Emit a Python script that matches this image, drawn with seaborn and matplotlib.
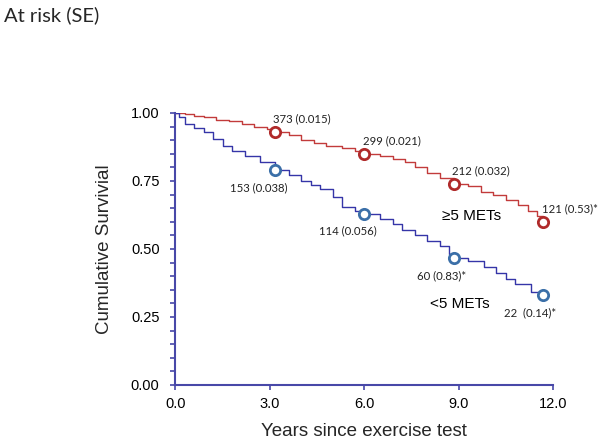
import numpy as np
import pandas as pd
import seaborn as sns
import matplotlib.pyplot as plt
from matplotlib.ticker import MultipleLocator

# Kaplan-Meier step points
red_years = [0, 0.3, 0.6, 0.9, 1.3, 1.7, 2.1, 2.5, 2.9, 3.15, 3.6, 4.0, 4.4, 4.8, 5.3,
             5.7, 6.0, 6.5, 6.9, 7.3, 7.6, 8.0, 8.4, 8.85, 9.3, 9.7, 10.1, 10.5, 10.9,
             11.2, 11.5, 11.7]
red_surv = [1.00, 0.995, 0.99, 0.985, 0.975, 0.97, 0.96, 0.95, 0.94, 0.93, 0.92, 0.90,
            0.89, 0.88, 0.87, 0.86, 0.85, 0.84, 0.83, 0.82, 0.80, 0.78, 0.76, 0.74, 0.73,
            0.71, 0.70, 0.68, 0.66, 0.64, 0.62, 0.60]

blue_years = [0, 0.1, 0.3, 0.6, 0.9, 1.2, 1.5, 1.8, 2.2, 2.7, 3.15, 3.6, 4.0, 4.3, 4.6,
              5.0, 5.3, 5.7, 6.0, 6.5, 6.9, 7.2, 7.6, 8.0, 8.4, 8.7, 8.85, 9.3, 9.8,
              10.2, 10.5, 10.8, 11.3, 11.7]
blue_surv = [1.00, 0.985, 0.96, 0.945, 0.93, 0.905, 0.88, 0.86, 0.84, 0.82, 0.79, 0.77,
             0.75, 0.735, 0.72, 0.69, 0.655, 0.64, 0.63, 0.61, 0.59, 0.57, 0.55, 0.53,
             0.51, 0.48, 0.465, 0.455, 0.435, 0.41, 0.39, 0.37, 0.34, 0.33]

# at-risk markers
risk_years = [3.15, 6.0, 8.85, 11.7]
red_risk_surv = [0.93, 0.85, 0.74, 0.60]
red_risk_labels = ['373 (0.015)', '299 (0.021)', '212 (0.032)', '121 (0.53)*']
blue_risk_surv = [0.79, 0.63, 0.465, 0.33]
blue_risk_labels = ['153 (0.038)', '114 (0.056)', '60 (0.83)*', '22  (0.14)*']

x_ticks = [0, 3, 6, 9, 12]
y_ticks = [0, 0.25, 0.5, 0.75, 1.0]

RED = '#C23B3B'
RED_MK = '#B02A2A'
BLUE = '#3535A8'
BLUE_MK = '#3B6FA8'
AXIS = '#4848A8'

sns.set_style('ticks')
plt.rcParams['font.family'] = ['Liberation Sans', 'DejaVu Sans']

fig = plt.figure(figsize=(6.01, 4.41), dpi=100)
ax = fig.add_axes([0.292, 0.127, 0.628, 0.617])

red_df = pd.DataFrame({'years': red_years, 'surv': red_surv})
blue_df = pd.DataFrame({'years': blue_years, 'surv': blue_surv})
sns.lineplot(data=red_df, x='years', y='surv', ax=ax, color=RED, linewidth=1.0,
             drawstyle='steps-post', estimator=None, sort=False)
sns.lineplot(data=blue_df, x='years', y='surv', ax=ax, color=BLUE, linewidth=1.0,
             drawstyle='steps-post', estimator=None, sort=False)

ax.scatter(risk_years, red_risk_surv, s=55, facecolors='white', edgecolors=RED_MK,
           linewidths=2, zorder=5)
ax.scatter(risk_years, blue_risk_surv, s=55, facecolors='white', edgecolors=BLUE_MK,
           linewidths=2, zorder=5)

ann_font = ['Lato', 'DejaVu Sans']
for x, y, t in zip(risk_years, red_risk_surv, red_risk_labels):
    ax.annotate(t, (x, y), xytext=(-1, 9.4), textcoords='offset points',
                ha='left', va='center', fontsize=8.2, family=ann_font, color='#222222')
for x, y, t in zip(risk_years, blue_risk_surv, blue_risk_labels):
    ax.annotate(t, (x, y), xytext=(9, -12.5), textcoords='offset points',
                ha='right', va='center', fontsize=8.2, family=ann_font, color='#222222')

ax.text(8.47, 0.62, '≥5 METs', fontsize=11, ha='left', va='center', color='black')
ax.text(8.08, 0.297, '<5 METs', fontsize=11, ha='left', va='center', color='black')

ax.set_xlim(0, 12)
ax.set_ylim(0, 1.0)
ax.set_xticks(x_ticks)
ax.set_xticklabels([f'{v:.1f}' for v in x_ticks])
ax.set_yticks(y_ticks)
ax.set_yticklabels([f'{v:.2f}' for v in y_ticks])
ax.yaxis.set_minor_locator(MultipleLocator(0.05))
ax.tick_params(axis='both', which='both', direction='out', length=3.5, width=1.2,
               color=AXIS, labelsize=10.5, labelcolor='black')
ax.tick_params(axis='x', pad=5)
ax.tick_params(axis='y', pad=8)

sns.despine(ax=ax)
for side in ['left', 'bottom']:
    ax.spines[side].set_color(AXIS)
    ax.spines[side].set_linewidth(1.5)

ax.set_xlabel('Years since exercise test', fontsize=13.5, labelpad=9)
ax.set_ylabel('Cumulative Survivial', fontsize=13.5, labelpad=13)

fig.text(0.006, 0.965, 'At risk (SE)', fontsize=14.5, family=['Lato', 'DejaVu Sans'],
         ha='left', va='center')

fig.savefig('out.png', dpi=100)
